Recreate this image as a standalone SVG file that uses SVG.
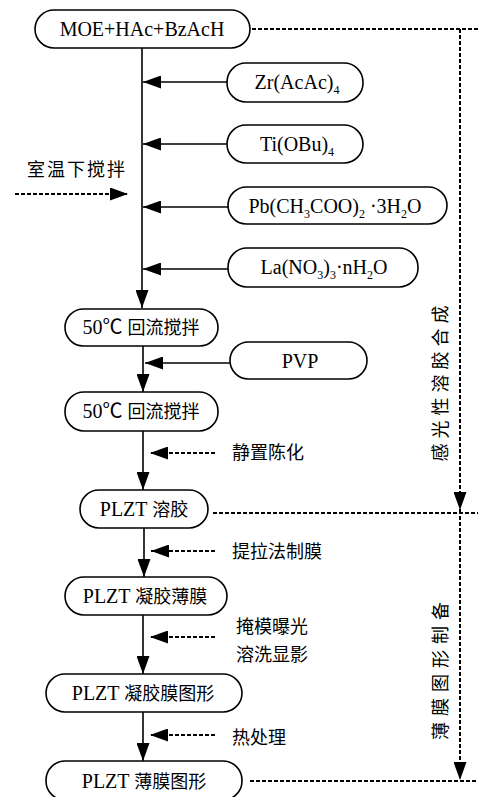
<svg xmlns="http://www.w3.org/2000/svg" width="478" height="797" viewBox="0 0 478 797">
<defs>
<style>
.box{fill:#fff;stroke:#000;stroke-width:1.6}
.ln{stroke:#000;stroke-width:1.6;fill:none}
.dl{stroke:#000;stroke-width:2;fill:none;stroke-dasharray:4 2}
.t{font-family:"Liberation Serif","Noto Sans CJK SC",serif;font-size:20px;fill:#000}
.c{font-family:"Noto Sans CJK SC","Liberation Serif",sans-serif;font-size:18px;fill:#000}
.m{text-anchor:middle}
.s{font-size:12px}
</style>
<marker id="ah" markerUnits="userSpaceOnUse" markerWidth="19" markerHeight="13" refX="18" refY="6.5" orient="auto">
<path d="M0,0 L18,6.5 L0,13 z" fill="#000"/>
</marker>
</defs>
<rect width="478" height="797" fill="#fff"/>

<g id="connectors">
<line class="ln" x1="142" y1="48" x2="142" y2="308" marker-end="url(#ah)"/>
<line class="ln" x1="227" y1="82" x2="143" y2="82" marker-end="url(#ah)"/>
<line class="ln" x1="227" y1="144" x2="143" y2="144" marker-end="url(#ah)"/>
<line class="ln" x1="228" y1="207" x2="143" y2="207" marker-end="url(#ah)"/>
<line class="ln" x1="228" y1="269" x2="143" y2="269" marker-end="url(#ah)"/>
<line class="dl" x1="15" y1="194" x2="128" y2="194" marker-end="url(#ah)"/>
<line class="ln" x1="143" y1="346" x2="143" y2="392" marker-end="url(#ah)"/>
<line class="ln" x1="230" y1="363" x2="145" y2="363" marker-end="url(#ah)"/>
<line class="ln" x1="143" y1="431" x2="143" y2="490" marker-end="url(#ah)"/>
<line class="dl" x1="215" y1="453" x2="150" y2="453" marker-end="url(#ah)"/>
<line class="ln" x1="144" y1="528" x2="144" y2="577" marker-end="url(#ah)"/>
<line class="dl" x1="215" y1="551" x2="151" y2="551" marker-end="url(#ah)"/>
<line class="ln" x1="143" y1="615" x2="143" y2="674" marker-end="url(#ah)"/>
<line class="dl" x1="215" y1="637" x2="150" y2="637" marker-end="url(#ah)"/>
<line class="ln" x1="143" y1="712" x2="143" y2="761" marker-end="url(#ah)"/>
<line class="dl" x1="215" y1="735" x2="150" y2="735" marker-end="url(#ah)"/>
<line class="dl" x1="252" y1="29" x2="478" y2="29"/>
<line class="dl" x1="460" y1="29" x2="460" y2="510" marker-end="url(#ah)"/>
<line class="dl" x1="460" y1="510" x2="460" y2="780" marker-end="url(#ah)"/>
<line class="dl" x1="213" y1="513" x2="478" y2="513"/>
<line class="dl" x1="250" y1="781" x2="478" y2="781"/>
</g>

<g id="n-moe"><rect class="box" x="35" y="10" width="215" height="38" rx="19"/><text class="t m" x="142" y="36">MOE+HAc+BzAcH</text></g>
<g id="n-zr"><rect class="box" x="227" y="63" width="136" height="39" rx="19"/><text class="t m" x="297" y="89">Zr(AcAc)<tspan class="s" dy="5">4</tspan></text></g>
<g id="n-ti"><rect class="box" x="227" y="125" width="136" height="38" rx="19"/><text class="t m" x="297" y="151">Ti(OBu)<tspan class="s" dy="5">4</tspan></text></g>
<g id="n-pb"><rect class="box" x="228" y="187" width="219" height="37" rx="18.5"/><text class="t m" x="335" y="213">Pb(CH<tspan class="s" dy="5">3</tspan><tspan dy="-5">COO)</tspan><tspan class="s" dy="5">2</tspan><tspan dy="-5"> ·3H</tspan><tspan class="s" dy="5">2</tspan><tspan dy="-5">O</tspan></text></g>
<g id="n-la"><rect class="box" x="228" y="248" width="190" height="39" rx="19"/><text class="t m" x="324" y="274">La(NO<tspan class="s" dy="5">3</tspan><tspan dy="-5">)</tspan><tspan class="s" dy="5">3</tspan><tspan dy="-5">·nH</tspan><tspan class="s" dy="5">2</tspan><tspan dy="-5">O</tspan></text></g>
<g id="n-rt"><text class="c" x="27" y="176" letter-spacing="2">室温下搅拌</text></g>
<g id="n-reflux1"><rect class="box" x="65" y="309" width="153" height="37" rx="18.5"/><text class="t m" x="141" y="334">50℃ <tspan class="c">回流搅拌</tspan></text></g>
<g id="n-pvp"><rect class="box" x="230" y="342" width="137" height="37" rx="18.5"/><text class="t m" x="300" y="368">PVP</text></g>
<g id="n-reflux2"><rect class="box" x="65" y="392" width="153" height="39" rx="19"/><text class="t m" x="141" y="418">50℃ <tspan class="c">回流搅拌</tspan></text></g>
<g id="n-age"><text class="c" x="232" y="459">静置陈化</text></g>
<g id="n-sol"><rect class="box" x="80" y="490" width="128" height="38" rx="19"/><text class="t m" x="144" y="516">PLZT <tspan class="c">溶胶</tspan></text></g>
<g id="n-dip"><text class="c" x="232" y="558">提拉法制膜</text></g>
<g id="n-gelfilm"><rect class="box" x="65" y="577" width="162" height="38" rx="19"/><text class="t m" x="145" y="603">PLZT  <tspan class="c">凝胶薄膜</tspan></text></g>
<g id="n-expose"><text class="c" x="236" y="633">掩模曝光</text><text class="c" x="236" y="661">溶洗显影</text></g>
<g id="n-gelpat"><rect class="box" x="46" y="674" width="196" height="38" rx="19"/><text class="t m" x="143" y="700">PLZT  <tspan class="c">凝胶膜图形</tspan></text></g>
<g id="n-heat"><text class="c" x="232" y="744">热处理</text></g>
<g id="n-filmpat"><rect class="box" x="46" y="761" width="196" height="39" rx="19"/><text class="t m" x="144" y="788">PLZT <tspan class="c">薄膜图形</tspan></text></g>
<g id="n-label1"><text class="c m" transform="translate(439,381) rotate(-90)" dominant-baseline="central" letter-spacing="5">感光性溶胶合成</text></g>
<g id="n-label2"><text class="c m" transform="translate(439,668) rotate(-90)" dominant-baseline="central" letter-spacing="6">薄膜图形制备</text></g>
</svg>
